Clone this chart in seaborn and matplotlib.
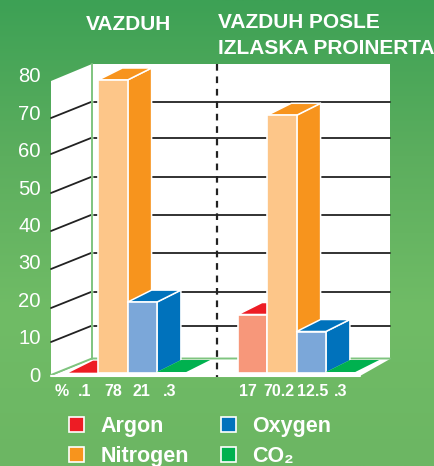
import numpy as np
import pandas as pd
import matplotlib
matplotlib.use("Agg")
import matplotlib.pyplot as plt
import seaborn as sns
from matplotlib.patches import Polygon, Patch
from matplotlib.transforms import Affine2D
from matplotlib.colors import LinearSegmentedColormap

# ---- data ----
elements = ["Argon", "Nitrogen", "Oxygen", "CO₂"]
air_heights = [0.1, 80, 21, 0.3]          # bar tops
after_heights = [17.5, 70.2, 12.5, 0.3]
air_labels = [".1", "78", "21", ".3"]
after_labels = ["17", "70.2", "12.5", ".3"]
y_ticks = [0, 10, 20, 30, 40, 50, 60, 70, 80]

# ---- styles ----
W, H = 435, 466
front = {"Argon": "#F7977A", "Nitrogen": "#FDC689", "Oxygen": "#7BA7D9", "CO₂": "#00B14F"}
dark = {"Argon": "#ED1C24", "Nitrogen": "#F7941D", "Oxygen": "#0072BC", "CO₂": "#00B14F"}
light_green = "#7FC47F"

# the drawn axis is not quite even: value -> pixel row of the bars' front plane
anchor_v = [-30, 0, 10, 20, 30, 40, 50, 60, 70, 80, 110]
anchor_p = [485, 373, 340, 306, 267, 229, 191, 152, 116, 80, -34]
fwd = lambda v: H - np.interp(v, anchor_v, anchor_p)
inv = lambda p: np.interp(H - np.asarray(p), anchor_p[::-1], anchor_v[::-1])

sns.set_theme(style="white")
plt.rcParams["font.family"] = ["Liberation Sans", "DejaVu Sans"]

fig = plt.figure(figsize=(W / 100, H / 100), dpi=100)

# gradient background
bg = fig.add_axes([0, 0, 1, 1], zorder=0)
cmap = LinearSegmentedColormap.from_list("g", ["#3DA155", "#5CAE5E", "#70BC66", "#6CB663"])
bg.imshow(np.linspace(0, 1, 256)[:, None], aspect="auto", cmap=cmap)
bg.axis("off")

ax = fig.add_axes([0, 0, 1, 1], zorder=1)
ax.patch.set_alpha(0)

x_start = [69, 238]
pitch = 29.3
rows = []
for g, heights in enumerate([air_heights, after_heights]):
    for i, (e, v) in enumerate(zip(elements, heights)):
        rows.append({"pos": x_start[g] + pitch * (i + 0.5), "value": v, "element": e})
df = pd.DataFrame(rows)
sns.barplot(data=df, x="pos", y="value", hue="element", palette=front, hue_order=elements,
            native_scale=True, dodge=False, legend=False, ax=ax, width=1.0, saturation=1)
ax.set_yscale("function", functions=(fwd, inv))
ax.set_xlim(0, W)
ax.set_ylim(inv(0), inv(H))
ax.set_axis_off()

pix = Affine2D().scale(1, -1).translate(0, H)


def P(x, v):
    d = ax.transData.transform((x, v))
    return d[0], H - d[1]


def poly(pts, fc, z, ec="white", lw=0.0):
    ax.add_patch(Polygon(pts, closed=True, fc=fc, ec=ec, lw=lw, transform=pix, zorder=z, joinstyle="round"))


# white wall, side wall, floor
poly([(92, 64), (390, 64), (390, 359), (92, 359)], "white", 1)
poly([(51, 81), (92, 64), (92, 359), (51, 375)], "white", 1)
poly([(51, 376), (92, 359), (390, 359), (360, 376)], "white", 1)

# grid
for v in y_ticks[1:-1]:
    x0, y0 = P(0, v)
    ax.plot([51, 91], [y0 + 2, y0 - 14], color="#222222", lw=1.3, transform=pix, zorder=2)
    ax.plot([94, 390], [y0 - 14, y0 - 14], color="#222222", lw=1.3, transform=pix, zorder=2)
ax.plot([92, 92], [64, 359], color=light_green, lw=1.4, transform=pix, zorder=3)
ax.plot([51, 92, 390], [375, 358.5, 358.5], color=light_green, lw=1.4, transform=pix, zorder=3)
ax.plot([51, 360], [375.5, 375.5], color="white", lw=1.5, transform=pix, zorder=3)
ax.plot([217, 217], [64, 377], color="#222222", lw=1.6, ls=(0, (3, 2.6)), transform=pix, zorder=30)

# 3D bars
bars = sorted([b for c in ax.containers for b in c], key=lambda b: b.get_x())
names = list(df["element"])
vals = list(df["value"])
dx, dy = 24, 12
for k, (b, name) in enumerate(zip(bars, names)):
    z = 5 + (k % 4) * 3 + 12 * (k // 4)
    l, r = b.get_x(), b.get_x() + b.get_width()
    (xl, yt), (xr, yb) = P(l, vals[k]), P(r, 0)
    top = [(xl, yt), (xr, yt), (xr + dx, yt - dy), (xl + dx, yt - dy)]
    side = [(xr, yt), (xr + dx, yt - dy), (xr + dx, yb - dy), (xr, yb)]
    if vals[k] > 1:
        poly(side, dark[name], z, lw=1.1)
        poly(top, dark[name], z, lw=1.1)
        b.set_facecolor(front[name])
        b.set_edgecolor("white")
        b.set_linewidth(1.2)
        b.set_zorder(z + 1)
    else:
        poly(top, dark[name], z, lw=0)
        b.set_visible(False)

# value labels under the bars
label_font = dict(fontweight="bold", fontsize=11.5,
                  color="white", ha="center", va="center", transform=pix, zorder=40)
ax.text(62, 391, "%", **label_font)
for x, s in zip([85, 113, 141, 170], air_labels):
    ax.text(x, 391, s, **label_font)
for x, s in zip([248, 279, 313, 341], after_labels):
    ax.text(x, 391, s, **label_font)

# headings
head = dict(fontweight="bold", fontsize=15, color="white", va="center", transform=pix, zorder=40)
ax.text(86, 25, "VAZDUH", **head)
ax.text(218, 23, "VAZDUH POSLE", **head)
ax.text(218, 48, "IZLASKA PROINERTA", **head)

# value axis labels (evenly spaced)
ax2 = fig.add_axes([51 / W, 0, 1 - 51 / W, 1], zorder=2)
ax2.patch.set_alpha(0)
ax2.set_ylim((374 - H) / 3.7375, 374 / 3.7375)
ax2.set_yticks(y_ticks)
ax2.set_xticks([])
ax2.tick_params(axis="y", length=0, pad=7.2, labelsize=14.6, labelcolor="white")
for s in ax2.spines.values():
    s.set_visible(False)

# legend
handles = [Patch(fc=dark[e], ec="white", lw=1.2, label=e) for e in elements]
fig.legend(handles=handles, ncol=2, frameon=False, loc="upper left",
           bbox_to_anchor=(69 / W, 1 - 416 / H), borderpad=0, borderaxespad=0,
           prop={"weight": "bold", "size": 15.5}, labelcolor="white",
           handlelength=0.7, handleheight=0.75, handletextpad=0.75,
           labelspacing=0.42, columnspacing=1.5)

fig.savefig("out.png", dpi=100)
